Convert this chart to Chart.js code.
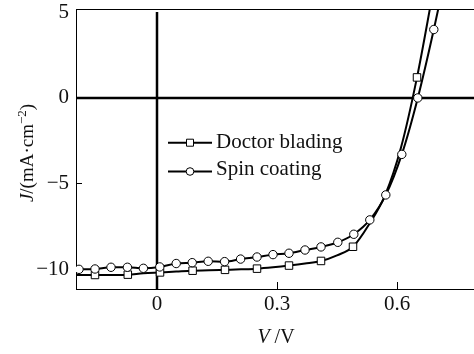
<!DOCTYPE html>
<html><head><meta charset="utf-8">
<script src="https://cdn.jsdelivr.net/npm/chart.js@4.4.0/dist/chart.umd.min.js"></script>
<style>html,body{margin:0;padding:0;background:#fff;}#wrap{width:474px;height:354px;}</style>
</head><body><div id="wrap"><canvas id="c" width="474" height="354"></canvas></div>
<script>
const seriesNames = ['Doctor blading', 'Spin coating'];
// Doctor blading (squares)
const dbV = [-0.205, -0.155, -0.115, -0.073, -0.034, 0.0075, 0.048, 0.089, 0.13, 0.17, 0.21, 0.25, 0.29, 0.33, 0.37, 0.41, 0.45, 0.49, 0.53, 0.57, 0.61, 0.65, 0.69];
const dbJ = [-10.35, -10.35, -10.35, -10.33, -10.25, -10.2, -10.15, -10.1, -10.08, -10.05, -10.02, -9.98, -9.9, -9.8, -9.68, -9.53, -9.2, -8.7, -7.4, -5.7, -2.9, 1.2, 6.2];
const dbMark = [0, 1, 0, 1, 0, 1, 0, 1, 0, 1, 0, 1, 0, 1, 0, 1, 0, 1, 0, 0, 0, 1, 0];
// Spin coating (circles)
const scV = [-0.195, -0.155, -0.115, -0.074, -0.034, 0.007, 0.048, 0.088, 0.128, 0.169, 0.209, 0.25, 0.29, 0.33, 0.37, 0.41, 0.452, 0.492, 0.532, 0.572, 0.612, 0.652, 0.692, 0.73];
const scJ = [-10.02, -10.0, -9.9, -9.9, -9.96, -9.88, -9.68, -9.63, -9.55, -9.57, -9.42, -9.3, -9.16, -9.08, -8.89, -8.71, -8.44, -7.97, -7.13, -5.67, -3.3, 0.0, 4.0, 8.2];
const scMark = [1, 1, 1, 1, 1, 1, 1, 1, 1, 1, 1, 1, 1, 1, 1, 1, 1, 1, 1, 1, 1, 1, 1, 0];
const xTicks = [0, 0.3, 0.6];
const xTickLabels = ['0', '0.3', '0.6'];
const yTicks = [-10, -5, 0, 5];
const yTickLabels = ['\u221210', '\u22125', '0', '5'];
const xRange = [-0.2025, 0.7925];
const yRange = [-11.17, 5.2];

const SERIF = '"Liberation Serif", "Times New Roman", serif';
const pts = (xs, ys) => xs.map((v, i) => ({x: v, y: ys[i]}));

const overlay = {
  id: 'overlay',
  beforeDatasetsDraw(chart) {
    const {ctx, chartArea: a, scales: {x, y}} = chart;
    ctx.save();
    ctx.strokeStyle = '#000';
    ctx.lineWidth = 1;
    ctx.beginPath();
    ctx.moveTo(a.left, a.top + 0.5); ctx.lineTo(a.right, a.top + 0.5);
    xTicks.forEach(v => {
      if (v === 0) return;
      const px = Math.round(x.getPixelForValue(v)) + 0.5;
      ctx.moveTo(px, a.bottom); ctx.lineTo(px, a.bottom - 7);
    });
    yTicks.forEach(v => {
      if (v === 0 || v === 5) return;
      const py = Math.round(y.getPixelForValue(v)) + 0.5;
      ctx.moveTo(a.left, py); ctx.lineTo(a.left + 6, py);
    });
    ctx.stroke();
    ctx.lineWidth = 2.5;
    const y0 = y.getPixelForValue(0), x0 = x.getPixelForValue(0);
    ctx.beginPath(); ctx.moveTo(a.left, y0); ctx.lineTo(a.right, y0); ctx.stroke();
    ctx.beginPath(); ctx.moveTo(x0, a.top + 3); ctx.lineTo(x0, a.bottom); ctx.stroke();
    ctx.restore();
  },
  afterDraw(chart) {
    const ctx = chart.ctx;
    ctx.save();
    ctx.fillStyle = '#111';
    ctx.strokeStyle = '#000';
    const rows = [
      {y: 142.7, ty: 142.5, style: 'rect', name: seriesNames[0]},
      {y: 171.5, ty: 169.5, style: 'circle', name: seriesNames[1]}
    ];
    rows.forEach(rw => {
      ctx.lineWidth = 2;
      ctx.beginPath(); ctx.moveTo(168, rw.y); ctx.lineTo(212, rw.y); ctx.stroke();
      ctx.lineWidth = 1;
      ctx.fillStyle = '#fff';
      ctx.beginPath();
      if (rw.style === 'rect') { ctx.rect(186.5, rw.y - 3.5, 7, 7); }
      else { ctx.arc(190, rw.y, 3.8, 0, Math.PI * 2); }
      ctx.fill(); ctx.stroke();
      ctx.fillStyle = '#111';
      ctx.font = '21px ' + SERIF;
      ctx.textBaseline = 'middle'; ctx.textAlign = 'left';
      ctx.fillText(rw.name, 216, rw.ty);
    });
    ctx.textBaseline = 'alphabetic';
    const xParts = [['italic 20px ' + SERIF, 'V', 0], ['20px ' + SERIF, ' /V', 0]];
    drawParts(ctx, xParts, 276, 343);
    ctx.translate(33, 153);
    ctx.rotate(-Math.PI / 2);
    const yParts = [['italic 19px ' + SERIF, 'J', 0], ['19px ' + SERIF, '/(mA\u00b7cm', 0], ['13px ' + SERIF, '\u22122', -7], ['19px ' + SERIF, ')', 0]];
    drawParts(ctx, yParts, 0, 0);
    ctx.restore();
  }
};
function drawParts(ctx, parts, cx, by) {
  let w = 0;
  parts.forEach(p => { ctx.font = p[0]; w += ctx.measureText(p[1]).width; });
  let xx = cx - w / 2;
  ctx.textAlign = 'left';
  parts.forEach(p => { ctx.font = p[0]; ctx.fillText(p[1], xx, by + p[2]); xx += ctx.measureText(p[1]).width; });
}
function zeroPad(s) { s.paddingTop = 0; s.paddingBottom = 0; s.paddingLeft = 0; s.paddingRight = 0; }

new Chart(document.getElementById('c'), {
  type: 'scatter',
  data: {
    datasets: [
      {label: seriesNames[0], data: pts(dbV, dbJ), showLine: true, order: 1,
       borderColor: '#000', borderWidth: 2, cubicInterpolationMode: 'monotone',
       pointStyle: 'rect', pointRadius: dbMark.map(m => m ? 5.3 : 0), pointBorderWidth: 1,
       pointBackgroundColor: '#fff', pointBorderColor: '#000'},
      {label: seriesNames[1], data: pts(scV, scJ), showLine: true, order: 0,
       borderColor: '#000', borderWidth: 2, cubicInterpolationMode: 'monotone',
       pointStyle: 'circle', pointRadius: scMark.map(m => m ? 4.2 : 0), pointBorderWidth: 1,
       pointBackgroundColor: '#fff', pointBorderColor: '#000'}
    ]
  },
  options: {
    responsive: false, animation: false, devicePixelRatio: 1,
    layout: {autoPadding: false, padding: {top: 9, left: 0, right: 0, bottom: 0}},
    plugins: {legend: {display: false}, tooltip: {enabled: false}},
    scales: {
      x: {
        type: 'linear', min: xRange[0], max: xRange[1],
        afterBuildTicks: s => { s.ticks = xTicks.map(v => ({value: v})); },
        afterFit: s => { s.height = 65; zeroPad(s); },
        ticks: {callback: v => xTickLabels[xTicks.indexOf(v)], font: {family: SERIF, size: 21, lineHeight: 1}, color: '#111', padding: -3, maxRotation: 0, autoSkip: false},
        grid: {display: false},
        border: {display: true, color: '#000', width: 1}
      },
      y: {
        type: 'linear', min: yRange[0], max: yRange[1],
        afterBuildTicks: s => { s.ticks = yTicks.map(v => ({value: v})); },
        afterFit: s => { s.width = 76; zeroPad(s); },
        ticks: {callback: v => yTickLabels[yTicks.indexOf(v)], font: {family: SERIF, size: 21}, color: '#111', padding: -1, autoSkip: false},
        grid: {display: false},
        border: {display: true, color: '#000', width: 1}
      }
    }
  },
  plugins: [overlay]
});
</script></body></html>
